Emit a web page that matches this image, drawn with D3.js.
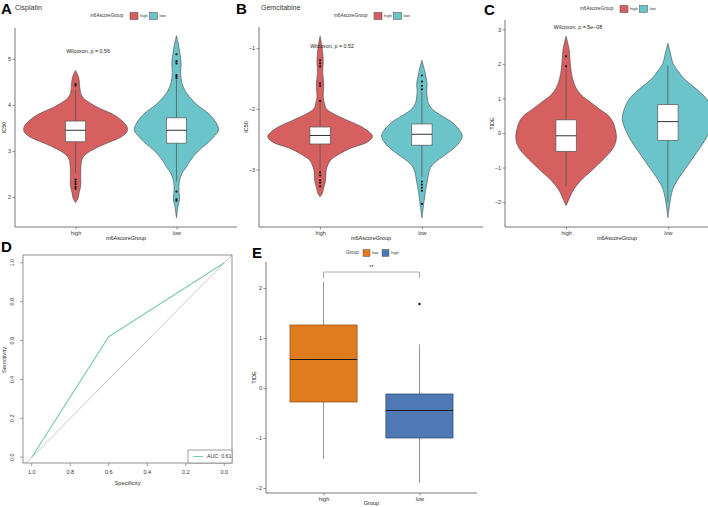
<!DOCTYPE html>
<html><head><meta charset="utf-8">
<script src="https://cdn.jsdelivr.net/npm/d3@7/dist/d3.min.js"></script>
<style>body{margin:0;background:#fff} svg{display:block;font-family:"Liberation Sans",Arial,Helvetica,sans-serif}</style>
</head><body><svg id="c" width="708" height="507"></svg>
<script>
// ---------------- DATA ----------------
const groups = ["high", "low"];
const groupLabel = "m6AscoreGroup";

// violin density profiles: [value, relative density]
const cisplatinHigh = [[4.75,0],[4.6,.06],[4.4,.08],[4.25,.1],[4.15,.15],[4.05,.27],[3.95,.42],[3.85,.62],[3.75,.79],[3.65,.9],[3.55,.98],[3.47,1],[3.4,.98],[3.3,.87],[3.2,.67],[3.1,.46],[3.0,.29],[2.9,.17],[2.8,.12],[2.6,.1],[2.4,.1],[2.25,.1],[2.1,.07],[1.95,.04],[1.88,0]];
const cisplatinLow = [[5.5,0],[5.3,.04],[5.1,.07],[4.9,.09],[4.7,.08],[4.5,.1],[4.3,.17],[4.1,.31],[4.0,.4],[3.8,.63],[3.6,.77],[3.45,.81],[3.3,.71],[3.15,.58],[3.0,.42],[2.8,.27],[2.65,.19],[2.5,.1],[2.3,.05],[2.1,.05],[1.95,.06],[1.8,.03],[1.55,0]];
const gemHigh = [[-0.8,0],[-1.0,.04],[-1.2,.06],[-1.4,.05],[-1.6,.07],[-1.8,.06],[-1.9,.08],[-2.0,.12],[-2.1,.3],[-2.2,.55],[-2.3,.8],[-2.4,.96],[-2.46,1],[-2.55,.9],[-2.65,.58],[-2.75,.36],[-2.85,.2],[-3.0,.12],[-3.1,.11],[-3.2,.1],[-3.3,.07],[-3.4,.04],[-3.45,0]];
const gemLow = [[-1.2,0],[-1.4,.06],[-1.6,.1],[-1.7,.09],[-1.8,.1],[-1.9,.12],[-2.0,.19],[-2.1,.35],[-2.2,.54],[-2.3,.67],[-2.45,.77],[-2.6,.67],[-2.75,.46],[-2.9,.23],[-3.0,.15],[-3.1,.12],[-3.2,.1],[-3.4,.06],[-3.6,.03],[-3.8,0]];
const tideHigh = [[2.8,0],[2.4,.06],[2.0,.08],[1.6,.12],[1.3,.19],[1.1,.29],[0.9,.46],[0.7,.63],[0.5,.81],[0.3,.9],[0.1,.94],[-0.1,.96],[-0.3,.94],[-0.5,.87],[-0.7,.75],[-0.9,.62],[-1.1,.48],[-1.3,.33],[-1.5,.21],[-1.7,.12],[-1.9,.06],[-2.1,0]];
const tideLow = [[2.6,0],[2.3,.05],[2.0,.1],[1.8,.19],[1.6,.29],[1.4,.44],[1.2,.6],[1.0,.73],[0.7,.83],[0.4,.87],[0.1,.81],[-0.2,.71],[-0.5,.58],[-0.8,.44],[-1.0,.35],[-1.3,.21],[-1.6,.1],[-1.9,.05],[-2.2,.02],[-2.45,0]];

// box stats: [whiskerLow, q1, median, q3, whiskerHigh]
const cisplatinBoxes = [[2.52,3.2,3.45,3.65,4.33],[2.34,3.17,3.45,3.72,4.55]];
const gemBoxes = [[-3.0,-2.58,-2.44,-2.3,-1.88],[-3.13,-2.6,-2.42,-2.25,-1.72]];
const tideBoxes = [[-1.55,-0.53,-0.08,0.38,1.85],[-2.0,-0.22,0.33,0.82,1.95]];

// outliers
const cisplatinOut = [[4.45,4.42,2.38,2.33,2.28,2.22,2.18],[5.1,4.95,4.9,4.65,4.62,4.58,2.12,1.95,1.92]];
const gemOut = [[-1.2,-1.25,-1.3,-1.58,-1.62,-1.87,-3.05,-3.1,-3.18,-3.22,-3.28],[-1.45,-1.55,-1.62,-1.68,-3.2,-3.25,-3.3,-3.35,-3.57]];
const tideOut = [[1.93,2.22],[]];

const cisplatinTicks = [2,3,4,5];
const gemTicks = [-3,-2,-1];
const tideTicks = [-2,-1,0,1,2,3];

// ROC
const rocSpecificity = [1.0, 0.6, 0.0];
const rocSensitivity = [0.0, 0.62, 1.0];
const rocTicks = [1.0,0.8,0.6,0.4,0.2,0.0];
const aucLabel = "AUC: 0.61";

// Panel E boxplot: [whiskerLow, q1, median, q3, whiskerHigh]
const eGroups = ["high","low"];
const eBoxes = [[-1.42,-0.28,0.57,1.26,2.12],[-1.9,-1.0,-0.45,-0.12,0.87]];
const eOutliers = [[],[1.68]];
const eTicks = [-2,-1,0,1,2];
const eLegend = ["low","high"];

// ---------------- STYLE ----------------
const vColors = ["#D5605F","#6CC4CB"];
const eColors = ["#E07B1E","#4F79B5"];
const eStroke = ["#8a4a12","#2b436a"];
const axisCol = "#666";
const svg = d3.select("#c");

function txt(g, x, y, s, size, opts={}) {
  const t = g.append("text").attr("x", x).attr("y", y).text(s)
    .attr("font-size", size).attr("fill", opts.fill || "#222");
  if (opts.anchor) t.attr("text-anchor", opts.anchor);
  if (opts.weight) t.attr("font-weight", opts.weight);
  if (opts.rotate) t.attr("transform", `rotate(${opts.rotate},${x},${y})`);
  if (opts.mid) t.attr("dominant-baseline", "middle");
  return t;
}

function violinPanel(cfg) {
  const g = svg.append("g");
  const x = d3.scalePoint().domain(groups).range([cfg.left, cfg.right]).padding(0.6);
  const y = d3.scaleLinear().domain(cfg.domain).range([cfg.bottom, cfg.top]);
  const step = x.step();
  const w = d3.scaleLinear().domain([0,1]).range([0, step*0.515]);
  const bw = step*0.2;
  // violins
  cfg.profiles.forEach((p, i) => {
    const cx = x(groups[i]);
    const area = d3.area().curve(d3.curveCatmullRom)
      .y(d => y(d[0])).x0(d => cx - w(d[1])).x1(d => cx + w(d[1]));
    g.append("path").attr("d", area(p)).attr("fill", vColors[i])
      .attr("stroke", "#444").attr("stroke-width", 0.6);
  });
  // boxes
  cfg.boxes.forEach((b, i) => {
    const cx = x(groups[i]);
    g.append("line").attr("x1", cx).attr("x2", cx).attr("y1", y(b[0])).attr("y2", y(b[4]))
      .attr("stroke", "#555").attr("stroke-width", 0.8);
    g.append("rect").attr("x", cx - bw/2).attr("width", bw).attr("y", y(b[3])).attr("height", y(b[1]) - y(b[3]))
      .attr("fill", "#fff").attr("stroke", "#555").attr("stroke-width", 0.7);
    g.append("line").attr("x1", cx - bw/2).attr("x2", cx + bw/2).attr("y1", y(b[2])).attr("y2", y(b[2]))
      .attr("stroke", "#333").attr("stroke-width", 1);
    cfg.outliers[i].forEach(v => g.append("circle").attr("cx", cx).attr("cy", y(v)).attr("r", 1.1).attr("fill", "#111"));
  });
  // axes
  const ay = g.append("g").attr("transform", `translate(${cfg.left},0)`)
    .call(d3.axisLeft(y).tickValues(cfg.ticks).tickSize(2.5).tickPadding(1.5).tickFormat(d3.format("d")));
  const ax = g.append("g").attr("transform", `translate(0,${cfg.bottom})`)
    .call(d3.axisBottom(x).tickSize(2.5).tickPadding(1.5));
  [ay, ax].forEach(a => {
    a.select(".domain").attr("stroke", axisCol).attr("stroke-width", 0.9);
    a.selectAll(".tick line").attr("stroke", axisCol).attr("stroke-width", 0.7);
    a.selectAll("text").attr("font-size", 5.5).attr("fill", "#333").attr("font-family", "Liberation Sans, Arial");
  });
  ay.select(".domain").attr("d", `M0,${cfg.top}V${cfg.bottom}`);
  ax.select(".domain").attr("d", `M${cfg.left},0H${cfg.right}`);
  txt(g, cfg.ylabX, (cfg.top + cfg.bottom)/2, cfg.ylab, 5.5, {anchor: "middle", rotate: -90});
  txt(g, (cfg.left + cfg.right)/2, cfg.bottom + 13, groupLabel, 5.5, {anchor: "middle"});
  txt(g, cfg.wx, y(cfg.wv), cfg.wtext, 5.3, {anchor: "middle", mid: true});
  // letter + title
  txt(g, cfg.letterX, cfg.letterY, cfg.letter, 15, {weight: "bold", fill: "#000"});
  if (cfg.title) txt(g, cfg.titleX, 10, cfg.title, 7, {fill: "#333"});
  // legend
  const L = cfg.leg;
  txt(g, L.x, L.y, groupLabel, 4.6, {mid: true, fill: "#333"});
  groups.forEach((gr, i) => {
    const bx = L.x + 40 + i * 19.5;
    g.append("rect").attr("x", bx).attr("y", L.y - 3.5).attr("width", 8).attr("height", 7)
      .attr("fill", vColors[i]).attr("stroke", "#444").attr("stroke-width", 0.5);
    txt(g, bx + 10, L.y, gr, 4.2, {mid: true, fill: "#333"});
  });
}

violinPanel({left: 15, right: 237, top: 28, bottom: 227, domain: [1.35, 5.67], ticks: cisplatinTicks,
  profiles: [cisplatinHigh, cisplatinLow], boxes: cisplatinBoxes, outliers: cisplatinOut,
  ylab: "IC50", ylabX: 6, wx: 88, wv: 5.15, wtext: "Wilcoxon, p = 0.56",
  letter: "A", letterX: 1, letterY: 14, title: "Cisplatin", titleX: 15, leg: {x: 90, y: 16}});
violinPanel({left: 259, right: 483, top: 27, bottom: 227, domain: [-3.95, -0.65], ticks: gemTicks,
  profiles: [gemHigh, gemLow], boxes: gemBoxes, outliers: gemOut,
  ylab: "IC50", ylabX: 248, wx: 332, wv: -0.97, wtext: "Wilcoxon, p = 0.52",
  letter: "B", letterX: 236, letterY: 14, title: "Gemcitabine", titleX: 261, leg: {x: 334, y: 16}});
violinPanel({left: 505, right: 729, top: 20, bottom: 227, domain: [-2.72, 3.27], ticks: tideTicks,
  profiles: [tideHigh, tideLow], boxes: tideBoxes, outliers: tideOut,
  ylab: "TIDE", ylabX: 494, wx: 578, wv: 3.06, wtext: "Wilcoxon, p = 5e\u221208",
  letter: "C", letterX: 484, letterY: 15, title: null, leg: {x: 580, y: 9}});

// ---------------- Panel D: ROC ----------------
(function(){
  const g = svg.append("g");
  const L = 23, R = 232, T = 255, B = 463;
  const x = d3.scaleLinear().domain([1.04, -0.04]).range([24, R]);
  const y = d3.scaleLinear().domain([-0.04, 1.04]).range([465, T]);
  g.append("clipPath").attr("id", "dclip").append("rect").attr("x", L).attr("y", T).attr("width", R - L).attr("height", B - T);
  g.append("line").attr("clip-path", "url(#dclip)")
    .attr("x1", x(1.1)).attr("y1", y(1 - 1.1)).attr("x2", x(-0.1)).attr("y2", y(1 + 0.1))
    .attr("stroke", "#bbb").attr("stroke-width", 0.8);
  const pts = rocSpecificity.map((s, i) => [s, rocSensitivity[i]]);
  g.append("path").attr("d", d3.line().x(d => x(d[0])).y(d => y(d[1]))(pts))
    .attr("fill", "none").attr("stroke", "#80CBAF").attr("stroke-width", 1.2);
  g.append("rect").attr("x", L).attr("y", T).attr("width", R - L).attr("height", B - T)
    .attr("fill", "none").attr("stroke", "#777").attr("stroke-width", 0.8);
  // axes
  rocTicks.forEach(t => {
    g.append("line").attr("x1", x(t)).attr("x2", x(t)).attr("y1", B).attr("y2", B + 3).attr("stroke", "#777").attr("stroke-width", 0.7);
    txt(g, x(t), B + 11, d3.format(".1f")(t), 5.5, {anchor: "middle", fill: "#333"});
    g.append("line").attr("x1", L).attr("x2", L - 3).attr("y1", y(t)).attr("y2", y(t)).attr("stroke", "#777").attr("stroke-width", 0.7);
    txt(g, 14, y(t), d3.format(".1f")(t), 5.5, {anchor: "middle", rotate: -90, fill: "#333"});
  });
  txt(g, (L + R)/2, 485, "Specificity", 5.8, {anchor: "middle", fill: "#333"});
  txt(g, 6, 360, "Sensitivity", 5.8, {anchor: "middle", rotate: -90, fill: "#333"});
  // legend
  g.append("rect").attr("x", 188).attr("y", 450).attr("width", R - 188).attr("height", B - 450)
    .attr("fill", "#fff").attr("stroke", "#777").attr("stroke-width", 0.7);
  g.append("line").attr("x1", 193).attr("x2", 203).attr("y1", 456.5).attr("y2", 456.5).attr("stroke", "#80CBAF").attr("stroke-width", 1);
  txt(g, 207, 456.5, aucLabel, 5.3, {mid: true, fill: "#333"});
  txt(g, 1, 252, "D", 15, {weight: "bold", fill: "#000"});
})();

// ---------------- Panel E: boxplot ----------------
(function(){
  const g = svg.append("g");
  const L = 266, R = 477, T = 262, B = 493;
  const x = d3.scalePoint().domain(eGroups).range([L, R]).padding(0.6);
  const y = d3.scaleLinear().domain([-2.1, 2.52]).range([B, T]);
  const bw = x.step() * 0.7;
  eBoxes.forEach((b, i) => {
    const cx = x(eGroups[i]);
    g.append("line").attr("x1", cx).attr("x2", cx).attr("y1", y(b[0])).attr("y2", y(b[1])).attr("stroke", "#777").attr("stroke-width", 0.8);
    g.append("line").attr("x1", cx).attr("x2", cx).attr("y1", y(b[3])).attr("y2", y(b[4])).attr("stroke", "#777").attr("stroke-width", 0.8);
    g.append("rect").attr("x", cx - bw/2).attr("width", bw).attr("y", y(b[3])).attr("height", y(b[1]) - y(b[3]))
      .attr("fill", eColors[i]).attr("stroke", eStroke[i]).attr("stroke-width", 0.7);
    g.append("line").attr("x1", cx - bw/2).attr("x2", cx + bw/2).attr("y1", y(b[2])).attr("y2", y(b[2]))
      .attr("stroke", "#1a1a1a").attr("stroke-width", 1.2);
    eOutliers[i].forEach(v => g.append("circle").attr("cx", cx).attr("cy", y(v)).attr("r", 1.2).attr("fill", "#111"));
  });
  // significance bracket
  const x1 = x(eGroups[0]), x2 = x(eGroups[1]);
  g.append("path").attr("d", `M${x1},${y(2.2)}V${y(2.32)}H${x2}V${y(2.2)}`).attr("fill", "none").attr("stroke", "#999").attr("stroke-width", 0.8);
  txt(g, (x1 + x2)/2, y(2.32) - 3, "**", 5.5, {anchor: "middle", fill: "#333"});
  const ay = g.append("g").attr("transform", `translate(${L},0)`)
    .call(d3.axisLeft(y).tickValues(eTicks).tickSize(2.5).tickPadding(1.5).tickFormat(d3.format("d")));
  const ax = g.append("g").attr("transform", `translate(0,${B})`)
    .call(d3.axisBottom(x).tickSize(2.5).tickPadding(1.5));
  [ay, ax].forEach(a => {
    a.select(".domain").attr("stroke", axisCol).attr("stroke-width", 0.9);
    a.selectAll(".tick line").attr("stroke", axisCol).attr("stroke-width", 0.7);
    a.selectAll("text").attr("font-size", 5.5).attr("fill", "#333").attr("font-family", "Liberation Sans, Arial");
  });
  ay.select(".domain").attr("d", `M0,${T}V${B}`);
  ax.select(".domain").attr("d", `M${L},0H${R}`);
  txt(g, 256, (T + B)/2, "TIDE", 5.5, {anchor: "middle", rotate: -90});
  txt(g, (x1 + x2)/2, 505, "Group", 5.5, {anchor: "middle"});
  // legend
  txt(g, 346, 253, "Group", 4.6, {mid: true, fill: "#333"});
  eLegend.forEach((lab, i) => {
    const bx = 363 + i * 19;
    g.append("rect").attr("x", bx).attr("y", 249.5).attr("width", 7).attr("height", 7)
      .attr("fill", eColors[i]).attr("stroke", "#444").attr("stroke-width", 0.4);
    txt(g, bx + 9, 253, lab, 4.2, {mid: true, fill: "#333"});
  });
  txt(g, 252, 258, "E", 15, {weight: "bold", fill: "#000"});
})();
</script></body></html>
